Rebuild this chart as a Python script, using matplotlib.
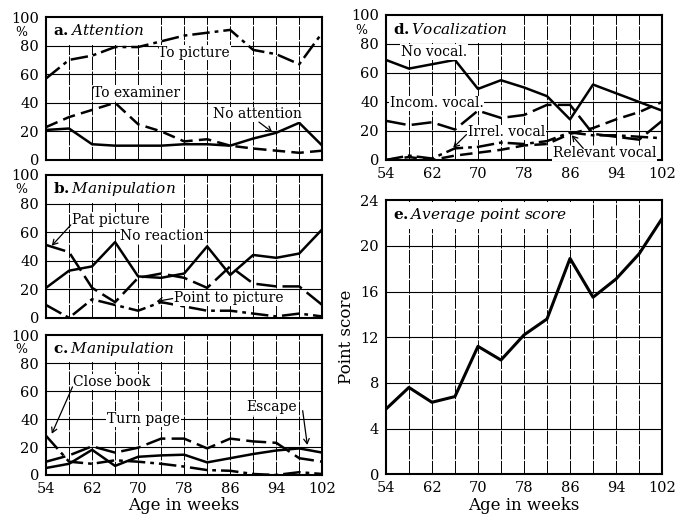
import matplotlib
matplotlib.use('Agg')
import matplotlib.pyplot as plt
from matplotlib.patches import Rectangle

plt.rcParams['font.family'] = 'DejaVu Serif'
plt.rcParams['mathtext.fontset'] = 'dejavuserif'

# --------------------------------------------------
# Data, age in weeks
# --------------------------------------------------
weeks = [54, 58, 62, 66, 70, 74, 78, 82, 86, 90, 94, 98, 102]
week_ticks = [54, 62, 70, 78, 86, 94, 102]

# a. Attention (%)
to_picture = [57, 70, 73, 79, 79, 83, 87, 89, 91, 77, 74, 67, 89]
to_examiner = [23, 30, 35, 40, 25, 20, 13, 14.5, 10, 8, 6.5, 5, 6.5]
no_attention = [21, 22, 11, 10, 10, 10, 11, 11, 10, 15, 19, 26, 10]

# b. Manipulation (%)
no_reaction = [21, 33, 36, 53, 29, 28, 31, 50, 30, 44, 42, 45, 62]
pat_picture = [51, 46, 21, 11, 28, 31, 28, 21, 36, 24, 22, 22, 9]
point_to_picture = [9, 0, 13, 9, 5, 11, 8, 5, 5, 3, 1, 3, 1]

# c. Manipulation (%)
escape = [5, 8, 18, 6.5, 13, 14, 14.5, 9, 12, 15, 17.5, 19, 16]
turn_page = [9.5, 14, 20.5, 16, 19.5, 26, 26, 19, 26, 24, 23, 12, 9.5]
close_book = [28, 9.5, 8, 10.5, 9.5, 8, 6, 3.5, 3, 0.7, 0, 2, 0.7]

# d. Vocalization (%)
no_vocal = [69, 63, 66, 69, 49, 55, 50, 44, 28, 52, 46, 40, 34]
incom_vocal = [27, 24, 26, 21, 34, 29, 31, 38, 38, 18, 16, 14, 27]
irrel_vocal = [0, 3, 1, 8, 9, 12, 11, 13, 19, 17, 17, 16, 15]
relevant_vocal = [0, 2, 0, 3, 5, 7, 10, 11, 18, 22, 28, 33, 40]

# e. Average point score
point_score = [5.7, 7.6, 6.3, 6.8, 11.2, 10.0, 12.2, 13.6, 18.9, 15.5, 17.1, 19.3, 22.4]

# --------------------------------------------------
# Styles
# --------------------------------------------------
SOLID = '-'
DASH = (0, (5, 2.5))
LONG_DASH = (0, (8, 2.5))
DASH_DOT = (0, (7, 2, 1.5, 2))
LW = 1.8
ARROW = dict(arrowstyle='->,head_length=0.35,head_width=0.2', lw=0.9, color='k',
             shrinkA=0, shrinkB=0)
LABEL_FS = 10
TICK_FS = 10.5
WHITE_BOX = dict(facecolor='white', edgecolor='none', pad=0.5)

fig = plt.figure(figsize=(6.77, 5.16), dpi=100)


def base_axes(rect, ymax, ystep, title, box_w, box_h, xlabels):
    ax = fig.add_axes(rect)
    ax.set_xlim(54, 102)
    ax.set_ylim(0, ymax)
    for x in weeks[1:-1]:
        ax.axvline(x, color='k', lw=0.7, ls=(0, (14, 1.5)), zorder=1)
    for y in range(ystep, ymax, ystep):
        ax.axhline(y, color='k', lw=0.8, zorder=1)
    ax.add_patch(Rectangle((0.004, 1 - box_h), box_w, box_h - 0.006,
                           transform=ax.transAxes, facecolor='white',
                           edgecolor='none', zorder=1.5))
    ax.text(0.025, 1 - box_h / 2, title, transform=ax.transAxes,
            fontsize=11, va='center', ha='left', zorder=4)
    ax.set_yticks(range(0, ymax + 1, ystep))
    if xlabels:
        ax.set_xticks(week_ticks)
    else:
        ax.set_xticks([])
    ax.tick_params(length=0, labelsize=TICK_FS, pad=5)
    for s in ax.spines.values():
        s.set_linewidth(1.5)
    return ax


def pct_axes(rect, title, box_w, xlabels=False):
    ax = base_axes(rect, 100, 20, title, box_w, 0.195, xlabels)
    ax.text(-0.09, 89.5, '%', transform=ax.get_yaxis_transform(),
            ha='center', va='center', fontsize=9)
    return ax


L, R, W = 0.068, 0.570, 0.408

# a. Attention
ax = pct_axes([L, 0.690, W, 0.277], r'$\mathbf{a.}\mathit{Attention}$', 0.37)
ax.plot(weeks, to_picture, color='k', lw=LW, ls=DASH_DOT, zorder=3)
ax.plot(weeks, to_examiner, color='k', lw=LW, ls=DASH, zorder=3)
ax.plot(weeks, no_attention, color='k', lw=LW, ls=SOLID, zorder=3)
ax.text(73.5, 75, 'To picture', fontsize=LABEL_FS, va='center', bbox=WHITE_BOX, zorder=4)
ax.text(62.2, 47, 'To examiner', fontsize=LABEL_FS, va='center', bbox=WHITE_BOX, zorder=4)
ax.text(83, 32, 'No attention', fontsize=LABEL_FS, va='center', bbox=WHITE_BOX, zorder=4)
ax.annotate('', xy=(93.3, 19.5), xytext=(91.0, 26.5), arrowprops=ARROW, zorder=4)

# b. Manipulation
ax = pct_axes([L, 0.384, W, 0.277], r'$\mathbf{b.}\mathit{Manipulation}$', 0.47)
ax.plot(weeks, no_reaction, color='k', lw=LW, ls=SOLID, zorder=3)
ax.plot(weeks, pat_picture, color='k', lw=LW, ls=LONG_DASH, zorder=3)
ax.plot(weeks, point_to_picture, color='k', lw=LW, ls=DASH_DOT, zorder=3)
ax.text(58.5, 68.5, 'Pat picture', fontsize=LABEL_FS, va='center', bbox=WHITE_BOX, zorder=4)
ax.text(66.9, 57, 'No reaction', fontsize=LABEL_FS, va='center', bbox=WHITE_BOX, zorder=4)
ax.text(76.2, 14, 'Point to picture', fontsize=LABEL_FS, va='center', bbox=WHITE_BOX, zorder=4)
ax.annotate('', xy=(55.0, 50.5), xytext=(58.3, 65), arrowprops=ARROW, zorder=4)
ax.annotate('', xy=(73.2, 11.5), xytext=(76.0, 13.5), arrowprops=ARROW, zorder=4)

# c. Manipulation
ax = pct_axes([L, 0.0795, W, 0.271], r'$\mathbf{c.}\mathit{Manipulation}$', 0.49,
              xlabels=True)
ax.plot(weeks, escape, color='k', lw=LW, ls=SOLID, zorder=3)
ax.plot(weeks, turn_page, color='k', lw=LW, ls=LONG_DASH, zorder=3)
ax.plot(weeks, close_book, color='k', lw=LW, ls=DASH_DOT, zorder=3)
ax.text(58.7, 66.5, 'Close book', fontsize=LABEL_FS, va='center', bbox=WHITE_BOX, zorder=4)
ax.text(64.6, 40, 'Turn page', fontsize=LABEL_FS, va='center', bbox=WHITE_BOX, zorder=4)
ax.text(88.8, 48.5, 'Escape', fontsize=LABEL_FS, va='center', bbox=WHITE_BOX, zorder=4)
ax.annotate('', xy=(55.0, 29.5), xytext=(58.6, 63), arrowprops=ARROW, zorder=4)
ax.annotate('', xy=(99.4, 21.5), xytext=(98.6, 46), arrowprops=ARROW, zorder=4)
ax.set_xlabel('Age in weeks', fontsize=12, labelpad=1)

# d. Vocalization
ax = pct_axes([R, 0.690, W, 0.281], r'$\mathbf{d.}\mathit{Vocalization}$', 0.49,
              xlabels=True)
ax.plot(weeks, no_vocal, color='k', lw=LW, ls=SOLID, zorder=3)
ax.plot(weeks, incom_vocal, color='k', lw=LW, ls=LONG_DASH, zorder=3)
ax.plot(weeks, irrel_vocal, color='k', lw=LW, ls=DASH_DOT, zorder=3)
ax.plot(weeks, relevant_vocal, color='k', lw=LW, ls=DASH, zorder=3)
ax.text(56.6, 74.5, 'No vocal.', fontsize=LABEL_FS, va='center', bbox=WHITE_BOX, zorder=4)
ax.text(54.7, 39, 'Incom. vocal.', fontsize=LABEL_FS, va='center', bbox=WHITE_BOX, zorder=4)
ax.text(68.3, 19, 'Irrel. vocal', fontsize=LABEL_FS, va='center', bbox=WHITE_BOX, zorder=4)
ax.text(83, 4.5, 'Relevant vocal', fontsize=LABEL_FS, va='center', bbox=WHITE_BOX, zorder=4)
ax.annotate('', xy=(65.7, 8.5), xytext=(68.0, 17.5), arrowprops=ARROW, zorder=4)
ax.annotate('', xy=(86.3, 17), xytext=(88.3, 8), arrowprops=ARROW, zorder=4)

# e. Average point score
ax = base_axes([R, 0.081, W, 0.531], 24, 4,
               r'$\mathbf{e.}\mathit{Average\ point\ score}$', 0.70, 0.105, True)
ax.plot(weeks, point_score, color='k', lw=2.2, ls=SOLID, zorder=3)
ax.set_xlabel('Age in weeks', fontsize=12, labelpad=1)
ax.set_ylabel('Point score', fontsize=12, labelpad=4)

fig.savefig('out.png', dpi=100, facecolor='white')
